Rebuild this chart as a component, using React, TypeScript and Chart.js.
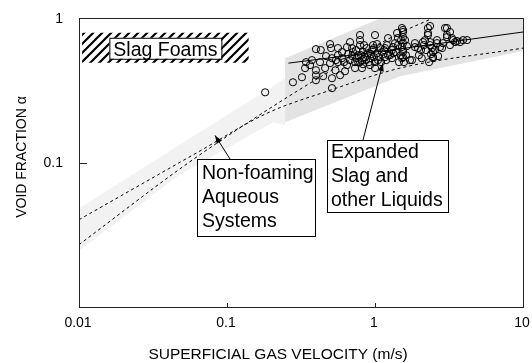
import { useEffect, useRef } from "react";
import { Chart, registerables } from "chart.js";

Chart.register(...registerables);

// Axis ticks (log scales)
const xTickValues = [0.01, 0.1, 1, 10];
const xTickLabels = ["0.01", "0.1", "1", "10"];
const yTickValues = [0.1, 1];
const yTickLabels = ["0.1", "1"];

// Measured void fraction of expanded slag and other liquids
const gasVelocity = [
  0.181, 0.279, 0.321, 0.337, 0.399, 0.399, 0.399, 0.399, 0.446, 0.512,
  0.512, 0.497, 0.505, 0.512, 0.497, 0.562, 0.581, 0.627, 0.647, 0.647,
  0.598, 0.710, 0.755, 0.733, 0.792, 0.792, 0.792, 0.770, 0.830, 0.856,
  0.880, 0.925, 1.000, 0.970, 1.030, 1.081, 1.000, 1.000, 1.169, 1.169,
  1.225, 1.225, 1.303, 1.365, 1.409, 1.430, 1.521, 1.546, 1.521, 1.490,
  1.546, 1.521, 1.723, 1.862, 1.953, 2.070, 2.109, 2.280, 2.280, 2.355,
  2.466, 2.466, 2.624, 2.838, 2.972, 3.062, 1.546, 1.546, 1.546, 1.546,
  1.546, 1.778, 1.862, 2.046, 2.178, 2.355, 2.280, 2.355, 2.427, 2.466,
  2.624, 2.748, 2.877, 3.062, 3.213, 3.062, 3.311, 3.213, 3.475, 3.750,
  3.936, 4.188, 0.562, 0.598, 0.660, 0.678, 0.700, 0.733, 0.817, 0.843,
  0.897, 0.955, 0.984, 1.048, 1.115, 1.190, 1.303, 1.330, 1.430, 1.452,
  1.596, 1.620, 0.364, 0.425, 0.460, 0.540, 0.562, 0.430, 0.792, 0.817,
  0.925, 0.678, 0.700, 0.745, 0.770, 0.804, 0.830, 0.869, 0.911, 0.940,
  0.984, 1.033, 1.064, 1.099, 1.151, 1.205, 1.263, 1.324, 1.387, 0.618,
  0.545, 0.467, 0.375, 0.342, 1.500, 1.570, 1.645, 2.210, 2.390, 2.540,
  2.670, 2.320, 2.140, 1.980, 3.370, 3.580,
];
const voidFraction = [
  0.306, 0.359, 0.389, 0.450, 0.609, 0.402, 0.435, 0.371, 0.396, 0.383,
  0.327, 0.660, 0.619, 0.527, 0.487, 0.619, 0.402, 0.428, 0.629, 0.472,
  0.527, 0.581, 0.527, 0.450, 0.762, 0.703, 0.649, 0.553, 0.581, 0.536,
  0.619, 0.527, 0.762, 0.649, 0.570, 0.619, 0.495, 0.450, 0.619, 0.536,
  0.726, 0.553, 0.600, 0.670, 0.787, 0.726, 0.852, 0.800, 0.629, 0.553,
  0.581, 0.527, 0.511, 0.670, 0.619, 0.527, 0.681, 0.852, 0.762, 0.649,
  0.581, 0.527, 0.670, 0.619, 0.852, 0.762, 0.826, 0.738, 0.670, 0.600,
  0.536, 0.511, 0.629, 0.600, 0.703, 0.880, 0.787, 0.681, 0.619, 0.536,
  0.703, 0.629, 0.670, 0.852, 0.800, 0.738, 0.726, 0.649, 0.681, 0.681,
  0.703, 0.703, 0.553, 0.581, 0.562, 0.511, 0.619, 0.495, 0.511, 0.649,
  0.570, 0.600, 0.536, 0.511, 0.581, 0.511, 0.527, 0.570, 0.649, 0.495,
  0.703, 0.553, 0.472, 0.495, 0.450, 0.435, 0.495, 0.600, 0.495, 0.450,
  0.472, 0.681, 0.545, 0.600, 0.495, 0.553, 0.479, 0.511, 0.495, 0.562,
  0.619, 0.660, 0.536, 0.495, 0.600, 0.649, 0.553, 0.629, 0.581, 0.495,
  0.511, 0.545, 0.511, 0.495, 0.703, 0.495, 0.639, 0.600, 0.562, 0.600,
  0.545, 0.495, 0.649, 0.553, 0.703, 0.692,
];

// Correlation curves (dashed)
const corrAX = [0.01, 0.0627, 0.186, 0.497, 1.475, 10];
const corrAY = [0.0402, 0.117, 0.219, 0.316, 0.45, 0.619];
const corrBX = [0.01, 0.0537, 0.186, 0.497, 1.475, 2.47];
const corrBY = [0.027, 0.098, 0.23, 0.428, 0.787, 1.0];

// Fit through the slag data (solid)
const fitX = [0.26, 1.45, 10];
const fitY = [0.487, 0.61, 0.8];

// Non-foaming aqueous systems envelope
const aqueousBandX = [0.01, 0.0481, 0.186, 0.247, 0.247, 0.205, 0.0481, 0.01];
const aqueousBandY = [0.048, 0.133, 0.316, 0.383, 0.181, 0.19, 0.0826, 0.0245];

// Expanded slag / other liquids envelope
const slagBandX = [0.247, 1.1, 10, 10, 1.475, 0.247];
const slagBandY = [0.527, 1.0, 1.0, 0.59, 0.396, 0.19];

// Slag foam region
const slagFoamX = [0.0105, 0.14, 0.14, 0.0105];
const slagFoamY = [0.79, 0.79, 0.49, 0.49];

const FONT = '"Liberation Sans", Arial, Helvetica, sans-serif';

const zip = (xs: number[], ys: number[]) => xs.map((x, i) => ({ x, y: ys[i] }));

function makeHatch(): CanvasPattern | string {
  const c = document.createElement("canvas");
  const s = 9;
  c.width = s;
  c.height = s;
  const g = c.getContext("2d");
  if (!g) return "#000";
  g.strokeStyle = "#000";
  g.lineWidth = 2.2;
  g.beginPath();
  g.moveTo(-1, s + 1);
  g.lineTo(s + 1, -1);
  g.moveTo(-1, 1);
  g.lineTo(1, -1);
  g.moveTo(s - 1, s + 1);
  g.lineTo(s + 1, s - 1);
  g.stroke();
  const p = g.createPattern(c, "repeat");
  return p || "#000";
}

function drawArrow(ctx: CanvasRenderingContext2D, x0: number, y0: number, x1: number, y1: number) {
  ctx.beginPath();
  ctx.moveTo(x0, y0);
  ctx.lineTo(x1, y1);
  ctx.stroke();
  const a = Math.atan2(y1 - y0, x1 - x0);
  const len = 8;
  const w = 3;
  const bx = x1 - len * Math.cos(a);
  const by = y1 - len * Math.sin(a);
  ctx.beginPath();
  ctx.moveTo(x1, y1);
  ctx.lineTo(bx + w * Math.sin(a), by - w * Math.cos(a));
  ctx.lineTo(bx - w * Math.sin(a), by + w * Math.cos(a));
  ctx.closePath();
  ctx.fill();
}

function textBox(
  ctx: CanvasRenderingContext2D,
  x: number,
  y: number,
  w: number,
  h: number,
  lines: string[],
  firstBaseline: number,
  lineGap: number,
  padLeft: number
) {
  ctx.fillStyle = "#fff";
  ctx.fillRect(x, y, w, h);
  ctx.strokeStyle = "#000";
  ctx.lineWidth = 1;
  ctx.strokeRect(x + 0.5, y + 0.5, w, h);
  ctx.fillStyle = "#000";
  ctx.font = `19.5px ${FONT}`;
  ctx.textAlign = "left";
  ctx.textBaseline = "alphabetic";
  lines.forEach((t, i) => ctx.fillText(t, x + padLeft, y + firstBaseline + i * lineGap));
}

const framePlugin = {
  id: "frameAndNotes",
  afterDatasetsDraw(chart: any) {
    const ctx: CanvasRenderingContext2D = chart.ctx;
    const { left, top, right, bottom } = chart.chartArea;
    const xs = chart.scales.x;
    const ys = chart.scales.y;
    ctx.save();

    // plot frame
    ctx.strokeStyle = "#222";
    ctx.lineWidth = 1;
    ctx.strokeRect(left + 0.5, top + 0.5, right - left, bottom - top);

    // inward tick marks
    ctx.beginPath();
    xTickValues.forEach((v) => {
      const px = Math.round(xs.getPixelForValue(v)) + 0.5;
      ctx.moveTo(px, bottom);
      ctx.lineTo(px, bottom - 4);
    });
    yTickValues.forEach((v) => {
      const py = Math.round(ys.getPixelForValue(v)) + 0.5;
      ctx.moveTo(left, py);
      ctx.lineTo(left + 8, py);
    });
    ctx.stroke();

    // tick labels
    ctx.fillStyle = "#000";
    ctx.font = `14px ${FONT}`;
    ctx.textAlign = "center";
    ctx.textBaseline = "middle";
    xTickValues.forEach((v, i) => {
      ctx.fillText(xTickLabels[i], xs.getPixelForValue(v) - 1, bottom + 16);
    });
    ctx.textAlign = "right";
    yTickValues.forEach((v, i) => {
      ctx.fillText(yTickLabels[i], left - 16, ys.getPixelForValue(v) + 1);
    });

    // axis titles
    ctx.font = `15.5px ${FONT}`;
    ctx.textAlign = "center";
    ctx.fillText("SUPERFICIAL GAS VELOCITY (m/s)", 278, bottom + 48);
    ctx.save();
    ctx.translate(22, 157);
    ctx.rotate(-Math.PI / 2);
    ctx.font = `14px ${FONT}`;
    ctx.fillText("VOID FRACTION \u03b1", 0, 0);
    ctx.restore();

    // slag foam label
    const fx0 = xs.getPixelForValue(slagFoamX[0]);
    const fx1 = xs.getPixelForValue(slagFoamX[1]);
    const fy0 = ys.getPixelForValue(slagFoamY[0]);
    const fy1 = ys.getPixelForValue(slagFoamY[2]);
    const cx = (fx0 + fx1) / 2;
    const cy = (fy0 + fy1) / 2;
    ctx.fillStyle = "#fff";
    ctx.fillRect(cx - 56, cy - 10, 112, 21);
    ctx.strokeStyle = "#000";
    ctx.strokeRect(cx - 56 + 0.5, cy - 10 + 0.5, 112, 21);
    ctx.fillStyle = "#000";
    ctx.font = `19.5px ${FONT}`;
    ctx.textAlign = "center";
    ctx.textBaseline = "alphabetic";
    ctx.fillText("Slag Foams", cx, cy + 8);

    // arrows
    ctx.strokeStyle = "#000";
    ctx.fillStyle = "#000";
    ctx.lineWidth = 1;
    drawArrow(ctx, left + 151, top + 141, xs.getPixelForValue(0.083), ys.getPixelForValue(0.154));
    drawArrow(ctx, left + 284, top + 122, xs.getPixelForValue(1.13), ys.getPixelForValue(0.487));

    // annotation boxes
    textBox(ctx, left + 118, top + 141, 118, 77, ["Non-foaming", "Aqueous", "Systems"], 20, 24, 5);
    textBox(ctx, left + 248, top + 122, 121, 72, ["Expanded", "Slag and", "other Liquids"], 18, 24, 4);

    ctx.restore();
  },
};

export default function App() {
  const ref = useRef<HTMLCanvasElement | null>(null);

  useEffect(() => {
    if (!ref.current) return;
    const hatch = makeHatch();
    const chart = new Chart(ref.current, {
      type: "scatter",
      data: {
        datasets: [
          {
            label: "Data",
            data: zip(gasVelocity, voidFraction),
            pointRadius: 3.6,
            pointBorderWidth: 1,
            pointBorderColor: "#000",
            pointBackgroundColor: "rgba(0,0,0,0)",
            order: 0,
          },
          {
            type: "line",
            label: "Fit",
            data: zip(fitX, fitY),
            borderColor: "#000",
            borderWidth: 1,
            pointRadius: 0,
            fill: false,
            tension: 0,
            order: 1,
          },
          {
            type: "line",
            label: "Correlation A",
            data: zip(corrAX, corrAY),
            borderColor: "#000",
            borderWidth: 1,
            borderDash: [3, 3],
            pointRadius: 0,
            fill: false,
            cubicInterpolationMode: "monotone",
            order: 1,
          },
          {
            type: "line",
            label: "Correlation B",
            data: zip(corrBX, corrBY),
            borderColor: "#000",
            borderWidth: 1,
            borderDash: [3, 3],
            pointRadius: 0,
            fill: false,
            cubicInterpolationMode: "monotone",
            order: 1,
          },
          {
            type: "line",
            label: "Slag Foams",
            data: zip(slagFoamX, slagFoamY),
            borderWidth: 0,
            borderColor: "rgba(0,0,0,0)",
            backgroundColor: hatch as any,
            pointRadius: 0,
            fill: "shape",
            tension: 0,
            order: 2,
          },
          {
            type: "line",
            label: "Slag band",
            data: zip(slagBandX, slagBandY),
            borderWidth: 0,
            borderColor: "rgba(0,0,0,0)",
            backgroundColor: "#e3e3e3",
            pointRadius: 0,
            fill: "shape",
            tension: 0,
            order: 3,
          },
          {
            type: "line",
            label: "Aqueous band",
            data: zip(aqueousBandX, aqueousBandY),
            borderWidth: 0,
            borderColor: "rgba(0,0,0,0)",
            backgroundColor: "#f2f2f2",
            pointRadius: 0,
            fill: "shape",
            tension: 0,
            order: 4,
          },
        ] as any,
      },
      options: {
        animation: false,
        responsive: true,
        maintainAspectRatio: false,
        layout: { padding: { left: 79, top: 18, right: 9, bottom: 56 } },
        scales: {
          x: { type: "logarithmic", min: 0.01, max: 10, display: false },
          y: { type: "logarithmic", min: 0.01, max: 1, display: false },
        },
        plugins: {
          legend: { display: false },
          tooltip: { enabled: false },
        },
        events: [],
      },
      plugins: [framePlugin],
    });
    return () => chart.destroy();
  }, []);

  return (
    <div style={{ position: "fixed", left: 0, top: 0, width: 532, height: 363, background: "#fff" }}>
      <canvas ref={ref} />
    </div>
  );
}
